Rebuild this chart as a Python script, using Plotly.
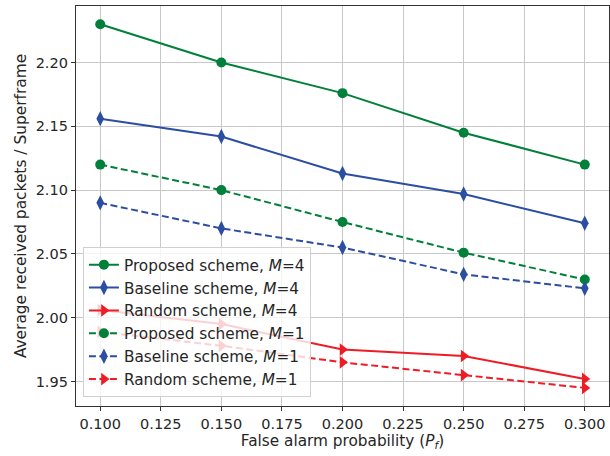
import plotly.graph_objects as go

pf = [0.10, 0.15, 0.20, 0.25, 0.30]

proposed_m4 = [2.230, 2.200, 2.176, 2.145, 2.120]
baseline_m4 = [2.156, 2.142, 2.113, 2.097, 2.074]
random_m4 = [2.006, 1.995, 1.975, 1.970, 1.952]
proposed_m1 = [2.120, 2.100, 2.075, 2.051, 2.030]
baseline_m1 = [2.090, 2.070, 2.055, 2.034, 2.023]
random_m1 = [1.989, 1.978, 1.965, 1.955, 1.945]

names = [
    "Proposed scheme, <i>M</i>=4",
    "Baseline scheme, <i>M</i>=4",
    "Random scheme, <i>M</i>=4",
    "Proposed scheme, <i>M</i>=1",
    "Baseline scheme, <i>M</i>=1",
    "Random scheme, <i>M</i>=1",
]
series = [proposed_m4, baseline_m4, random_m4, proposed_m1, baseline_m1, random_m1]

GREEN = "#00803a"
BLUE = "#2b4ea2"
RED = "#ee1c25"
colors = [GREEN, BLUE, RED, GREEN, BLUE, RED]
symbols = ["circle", "diamond-tall", "triangle-right", "circle", "diamond-tall", "triangle-right"]
sizes = [10, 11, 11, 10, 11, 11]
dashes = ["solid", "solid", "solid", "7px,3.5px", "7px,3.5px", "7px,3.5px"]

fig = go.Figure()
for nm, ys, c, s, sz, d in zip(names, series, colors, symbols, sizes, dashes):
    fig.add_trace(go.Scatter(
        x=pf, y=ys, name=nm, mode="lines+markers",
        line=dict(color=c, width=2, dash=d),
        marker=dict(symbol=s, size=sz, color=c, line=dict(width=0)),
    ))

font = "DejaVu Sans, sans-serif"
fig.update_layout(
    width=610, height=456,
    margin=dict(l=76, r=1, t=6, b=50),
    paper_bgcolor="white", plot_bgcolor="white",
    font=dict(family=font, size=14, color="#262626"),
    showlegend=True,
    legend=dict(
        x=0.013, y=0.022, xanchor="left", yanchor="bottom",
        bgcolor="rgba(255,255,255,0.8)", bordercolor="#d0d0d0", borderwidth=1,
        font=dict(family=font, size=15.3, color="#262626"),
        tracegroupgap=0, itemwidth=30,
    ),
    xaxis=dict(
        range=[0.09, 0.31], automargin=False,
        tickvals=[0.100, 0.125, 0.150, 0.175, 0.200, 0.225, 0.250, 0.275, 0.300],
        ticktext=["0.100", "0.125", "0.150", "0.175", "0.200", "0.225", "0.250", "0.275", "0.300"],
        showgrid=True, gridcolor="#c8c8c8", gridwidth=1.2,
        showline=True, linecolor="#333333", linewidth=1.3, mirror=True,
        ticks="outside", ticklen=4, tickcolor="#333333",
        tickfont=dict(size=14.5),
        zeroline=False,
        title=dict(text="False alarm probability (<i>P</i><sub><i>f</i></sub>)", font=dict(size=15.3), standoff=3),
    ),
    yaxis=dict(
        range=[1.9308, 2.2443], automargin=False,
        tickvals=[1.95, 2.00, 2.05, 2.10, 2.15, 2.20],
        ticktext=["1.95", "2.00", "2.05", "2.10", "2.15", "2.20"],
        showgrid=True, gridcolor="#c8c8c8", gridwidth=1.2,
        showline=True, linecolor="#333333", linewidth=1.3, mirror=True,
        ticks="outside", ticklen=4, tickcolor="#333333",
        tickfont=dict(size=14.5),
        zeroline=False,
        title=dict(text="Average received packets / Superframe", font=dict(size=15.4), standoff=5),
    ),
)

fig.write_html("out.html", config={"displayModeBar": False},
               post_script="document.body.style.margin='0';")
